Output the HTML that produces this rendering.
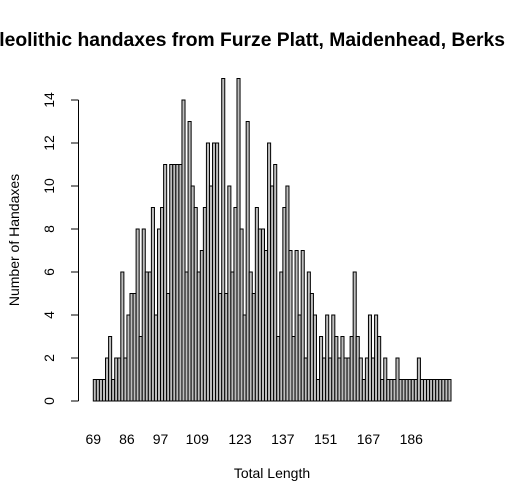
<!DOCTYPE html>
<html><head><meta charset="utf-8"><style>
html,body{margin:0;padding:0;background:#fff}
svg{display:block;font-family:"Liberation Sans",Arial,sans-serif}
</style></head><body>
<svg id="chart" width="506" height="503" viewBox="0 0 506 503" xmlns="http://www.w3.org/2000/svg">
<text x="505" y="46" text-anchor="end" font-size="19.3" font-weight="bold">Paleolithic handaxes from Furze Platt, Maidenhead, Berks</text>
<g id="bars"></g>
<g id="yaxis"></g>
<g id="xlabels"></g>
<text x="272" y="478" text-anchor="middle" font-size="14">Total Length</text>
<text x="0" y="0" transform="translate(19,240) rotate(-90)" text-anchor="middle" font-size="14">Number of Handaxes</text>
</svg>
<script>
const counts = [1,1,1,1,2,3,1,2,2,6,2,4,5,5,8,3,8,6,6,9,4,8,9,11,5,11,11,11,11,14,
 6,13,10,9,6,7,9,12,10,12,12,5,15,5,10,6,9,15,8,4,13,6,5,9,8,8,7,12,10,11,
 3,6,9,10,7,3,7,4,7,2,6,5,4,1,3,2,4,2,4,3,2,3,2,2,3,6,3,2,1,
 2,4,2,4,3,1,2,1,1,1,2,1,1,1,1,1,1,2,1,1,1,1,1,1,1,1,1,1];
const xTickLabels = ["69","86","97","109","123","137","151","167","186"];
const xTickBarIndex = [0,11,22,34,48,62,76,90,104];
const yTicks = [0,2,4,6,8,10,12,14];

const NS = "http://www.w3.org/2000/svg";
const x0 = 93.3, x1 = 451, y0 = 401, pxPerUnit = (401-100)/14;
const bw = (x1-x0)/counts.length;
const xPos = i => x0 + i*bw;
const yPos = v => y0 - v*pxPerUnit;

const gb = document.getElementById('bars');
counts.forEach((c,i)=>{
  const r = document.createElementNS(NS,'rect');
  
  
  r.setAttribute('x', xPos(i)); r.setAttribute('y', yPos(c));
  r.setAttribute('width', bw); r.setAttribute('height', y0-yPos(c));
  r.setAttribute('fill', '#bebebe'); r.setAttribute('stroke', '#000'); r.setAttribute('stroke-width', '1');
  gb.appendChild(r);
});

const gy = document.getElementById('yaxis');
const ax = document.createElementNS(NS,'line');


ax.setAttribute('x1',78.5); ax.setAttribute('x2',78.5);
ax.setAttribute('y1',yPos(yTicks[0])); ax.setAttribute('y2',yPos(yTicks[yTicks.length-1]));
ax.setAttribute('stroke','#000');
gy.appendChild(ax);
yTicks.forEach(v=>{
  const t = document.createElementNS(NS,'line');
  
  
  t.setAttribute('x1',71); t.setAttribute('x2',78.5);
  t.setAttribute('y1',yPos(v)); t.setAttribute('y2',yPos(v));
  t.setAttribute('stroke','#000');
  gy.appendChild(t);
  const l = document.createElementNS(NS,'text');
  
  
  l.setAttribute('transform','translate(54,'+yPos(v)+') rotate(-90)');
  l.setAttribute('text-anchor','middle');
  l.setAttribute('font-size','14');
  l.textContent = v;
  gy.appendChild(l);
});

const gx = document.getElementById('xlabels');
xTickLabels.forEach((s,k)=>{
  const l = document.createElementNS(NS,'text');
  
  
  l.setAttribute('x', xPos(xTickBarIndex[k]));
  l.setAttribute('y', 444);
  l.setAttribute('text-anchor','middle');
  l.setAttribute('font-size','14');
  l.textContent = s;
  gx.appendChild(l);
});
</script>
</body></html>
